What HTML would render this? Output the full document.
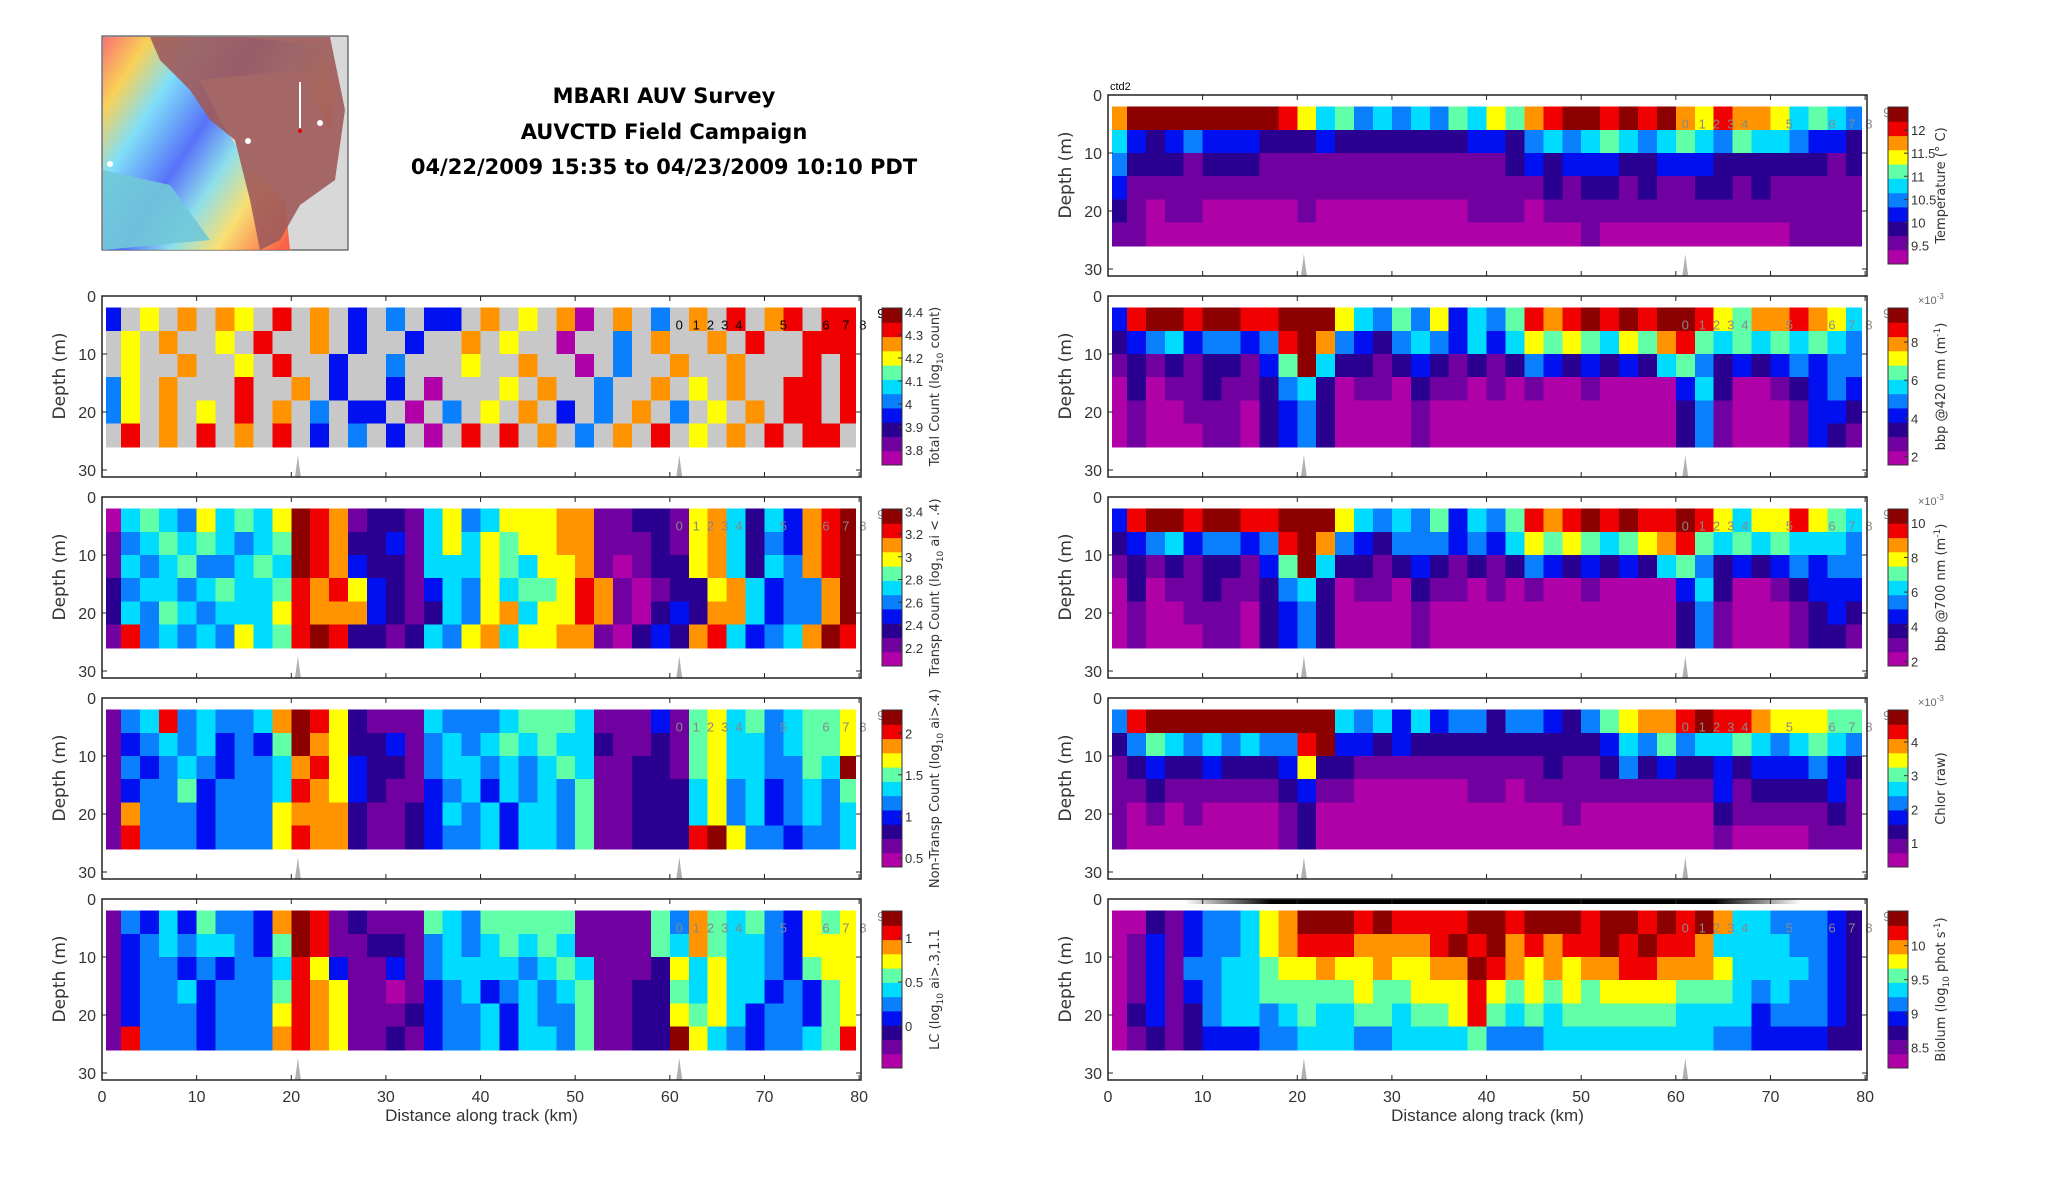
<!DOCTYPE html>
<html><head><meta charset="utf-8"><title>MBARI AUV Survey</title>
<style>
html,body{margin:0;padding:0;background:#fff;}
svg{display:block;font-family:"Liberation Sans","DejaVu Sans",sans-serif;}
</style></head>
<body>
<svg id="fig" width="2052" height="1188" viewBox="0 0 2052 1188" xmlns="http://www.w3.org/2000/svg">
  <defs>
    <linearGradient id="mapRainbow" x1="0" y1="0" x2="1" y2="0.6">
      <stop offset="0" stop-color="#ff6060"/>
      <stop offset="0.15" stop-color="#ffd040"/>
      <stop offset="0.3" stop-color="#70e0ff"/>
      <stop offset="0.5" stop-color="#4060ff"/>
      <stop offset="0.65" stop-color="#80e0f0"/>
      <stop offset="0.8" stop-color="#ffe060"/>
      <stop offset="1" stop-color="#ff5030"/>
    </linearGradient>
    <linearGradient id="blackBar" x1="0" y1="0" x2="1" y2="0">
      <stop offset="0" stop-color="#fff"/>
      <stop offset="0.14" stop-color="#000"/>
      <stop offset="0.86" stop-color="#000"/>
      <stop offset="1" stop-color="#fff"/>
    </linearGradient>
  </defs>
  <g>
    <rect x="102" y="36" width="246" height="214" fill="#d8d8d8" stroke="#333" stroke-width="1"/>
    <path d="M103,37 L103,250 L290,250 L285,200 L245,160 L220,120 L200,80 L300,70 L330,130 L335,90 L320,45 L240,37 Z" fill="url(#mapRainbow)" opacity="0.85"/>
    <path d="M150,37 L330,37 L345,110 L335,180 L300,205 L280,240 L260,250 L250,200 L235,140 L210,120 L190,90 L160,60 Z" fill="#a05a5a" opacity="0.9"/>
    <path d="M103,170 L170,185 L210,240 L103,250 Z" fill="#70c8d8" opacity="0.9"/>
    <line x1="300" y1="82" x2="300" y2="128" stroke="#fff" stroke-width="2"/>
    <circle cx="320" cy="123" r="3" fill="#fff"/>
    <circle cx="110" cy="164" r="3" fill="#fff"/>
    <circle cx="248" cy="141" r="3" fill="#fff"/>
    <circle cx="300" cy="131" r="2" fill="#d00"/>
  </g>
  <g font-family="'DejaVu Sans', sans-serif" font-weight="bold" font-size="21" text-anchor="middle" fill="#000">
    <text x="664" y="103">MBARI AUV Survey</text>
    <text x="664" y="139">AUVCTD Field Campaign</text>
    <text x="664" y="174">04/22/2009 15:35 to 04/23/2009 10:10 PDT</text>
  </g>
  <text x="1110" y="90" font-size="11" fill="#000">ctd2</text>
  <rect x="1185" y="899" width="616" height="5" fill="url(#blackBar)"/>
  <g id="panels"></g>
</svg>
<script>
// Shared axis data
const xTicks = [0, 10, 20, 30, 40, 50, 60, 70, 80];
const depthTicks = [0, 10, 20, 30];
const rowDepths = [2, 6, 10, 14, 18, 22]; // top depth of each 4 m data row
const rowHeight = 4;
const colWidthKm = 2;
const stationLabels = ['0', '1', '2', '3', '4', '5', '6', '7', '8', '9'];
const stationKm = [61, 62.8, 64.3, 65.8, 67.3, 72, 76.5, 78.6, 80.4, 82.3];
const bottomSpikesKm = [20.7, 61];

// Panel data: each row string = 40 columns (2 km), level 0 (low) .. a (high), g = no-data grey
const totalRows = [
  "3g7g8g87g9g8g3g4g33g8g7g80g8g4g8g9g89g99",
  "g7g8gg7g9gg8g3gg3gg8g7gg0gg4g8gg8g9gg999",
  "g7gg8gg7g9gg3gg4ggg7gg8gg0g4gg8gg8ggg9g9",
  "47g8ggg9gg8g3gg3g0ggg7g8gg4gg8g7g8gg99g9",
  "47g8g7g9g8g4g33g0g4g7g8g3g4g8g4g7g8g99g9",
  "g9g8g9g8g9g3g4g3g0g9g9g8g4g8g9g7g8g9g99g"
];
const transpRows = [
  "0565475657a9812215745777881122178525389a9",
  "1456565456a9822315757677881112178524389a9",
  "1545644565a9832215557657781012278525489a9",
  "245545655698973213547566798101227853448a9",
  "254654555798883212547857798102328853448a9",
  "19454547569a92212547857788102328953458a9"
];
const nontranspRows = [
  "1459454458a972111544456665111316756456678",
  "1345453436a872231454565655211216755456679",
  "143454344589732214554545651122167554465a8",
  "134463444598732113453545461122257453454697",
  "184443444788821123545355461122257453454569",
  "19444344479882112344535546112229a7443445696"
];
const lcRows = [
  "1435364438a912111654666661111648656437677",
  "1345455436a911221454565651111658655437777",
  "134434344597311314555545651112757554367797",
  "134453444698711013453454561122657553436797",
  "134443444798711123445354461122767534436799",
  "194443444898711213445355461122a7543445697"
];
const tempRows = [
  "8aaaaaaaa975645454657689aa9a9a8798875654",
  "5323433322232222222332454565456546554332",
  "4222122211111111111112323332233322222212",
  "3111111111111111111111121221211221211111",
  "2101100000100000000111011111111111111111",
  "1100000000000000000000000100000000001111"
];
const bbp420Rows = [
  "39aa9aa99aaa7546473546989a9a9aa976889875",
  "2345344349a84324543535767657689656565654",
  "1212122136a52212321212432323256423234344",
  "0201121124520110211010100100003520012343",
  "0100111023420000100000000000002410001332",
  "0100011023420000100000000000002410001321"
];
const bbp700Rows = [
  "39aa9aa99aaa7545463546989a9a99a975779765",
  "2345344349a84324443435767656789656565554",
  "1212122136a52212321212432323256423234344",
  "0201121124520110211010100100003520012333",
  "0100111023420000100000000000002410001232",
  "0100011023420000100000000000002410001221"
];
const chlorRows = [
  "49aaaaaaaaaa5453534424432467889a99877766",
  "24654545449a3323222222222235464556545654",
  "1232232223722111111111121124232232333432",
  "1121111112311000000110111111111131222231",
  "1010100001200000000000001000000021111121",
  "1000000001200000000000000000000010000111"
];
const biolumRows = [
  "0021344578aaa9a9999aa9aaa9aa9a9a85544432",
  "013134457899988889a9a89899a9a99855554432",
  "0131445567787787788a98787889988875555432",
  "0131345566666766777976767677776665454432",
  "0231245545655665667965656666665555344432",
  "0121233344555445555644455555555544333322"
];

// Colorbar ticks
const totalTicks = [3.8, 3.9, 4, 4.1, 4.2, 4.3, 4.4];
const transpTicks = [2.2, 2.4, 2.6, 2.8, 3, 3.2, 3.4];
const nontranspTicks = [0.5, 1, 1.5, 2];
const lcTicks = [0, 0.5, 1];
const tempTicks = [9.5, 10, 10.5, 11, 11.5, 12];
const bbp420Ticks = [2, 4, 6, 8];
const bbp700Ticks = [2, 4, 6, 8, 10];
const chlorTicks = [1, 2, 3, 4];
const biolumTicks = [8.5, 9, 9.5, 10];

const palette = ['#b000a8','#7000a0','#2a0090','#0010f0','#0a80ff','#00dcff','#60ffa8','#ffff00','#ff9400','#f00000','#8c0000'];
const GREY = '#c8c8c8';
const NS = 'http://www.w3.org/2000/svg';

const panelDefs = [
  {key:'total-count', rows: totalRows, ticks: totalTicks, vmin:3.735, vmax:4.417, left:102, top:296, label:'Total Count (log', sub:'10', tail:' count)', xlabels:false, labelColor:'#000', exp:false},
  {key:'transp-count', rows: transpRows, ticks: transpTicks, vmin:2.04, vmax:3.42, left:102, top:497, label:'Transp Count (log', sub:'10', tail:' ai < .4)', xlabels:false, labelColor:'#888', exp:false},
  {key:'nontransp-count', rows: nontranspRows, ticks: nontranspTicks, vmin:0.39, vmax:2.28, left:102, top:698, label:'Non-Transp Count (log', sub:'10', tail:' ai>.4)', xlabels:false, labelColor:'#888', exp:false},
  {key:'lc', rows: lcRows, ticks: lcTicks, vmin:-0.48, vmax:1.31, left:102, top:899, label:'LC (log', sub:'10', tail:' ai>.3,1.1<esd<1.7)', xlabels:true, labelColor:'#888', exp:false},
  {key:'temperature', rows: tempRows, ticks: tempTicks, vmin:9.1, vmax:12.5, left:1108, top:95, label:'Temperature (° C)', sub:'', tail:'', xlabels:false, labelColor:'#888', exp:false},
  {key:'bbp420', rows: bbp420Rows, ticks: bbp420Ticks, vmin:1.56, vmax:9.78, left:1108, top:296, label:'bbp @420 nm (m', sup:'-1', tail:')', xlabels:false, labelColor:'#888', exp:true},
  {key:'bbp700', rows: bbp700Rows, ticks: bbp700Ticks, vmin:1.73, vmax:10.8, left:1108, top:497, label:'bbp @700 nm (m', sup:'-1', tail:')', xlabels:false, labelColor:'#888', exp:true},
  {key:'chlor', rows: chlorRows, ticks: chlorTicks, vmin:0.29, vmax:4.95, left:1108, top:698, label:'Chlor (raw)', sub:'', tail:'', xlabels:false, labelColor:'#888', exp:true},
  {key:'biolum', rows: biolumRows, ticks: biolumTicks, vmin:8.2, vmax:10.51, left:1108, top:899, label:'Biolum (log', sub:'10', tail:' phot s', sup2:'-1', tail2:')', xlabels:true, labelColor:'#888', exp:false}
];

const W = 759, H = 181, PXM = 5.8, KMMAX = 80.2;
function mk(tag, attrs, parent){const e=document.createElementNS(NS,tag);for(const k in attrs)e.setAttribute(k,attrs[k]);if(parent)parent.appendChild(e);return e;}

const root = document.getElementById('panels');
panelDefs.forEach(p => {
  const xs = km => p.left + km / KMMAX * W;
  const ys = d => p.top + d * PXM;
  const g = mk('g', {}, root);
  
  
  const hm = mk('g', {'shape-rendering':'crispEdges'}, g);
  
  
  p.rows.forEach((rowStr, r) => {
    for (let i = 0; i < 40; i++) {
      const c = i < rowStr.length ? rowStr[i] : rowStr[rowStr.length-1];
      const fill = c === 'g' ? GREY : palette[parseInt(c, 16)];
      const x0 = xs(Math.max(0.4, i*colWidthKm)), x1 = xs(Math.min(79.6, (i+1)*colWidthKm));
      const cell = mk('rect', {x:x0.toFixed(1), y:ys(rowDepths[r]).toFixed(1), width:(x1-x0+0.6).toFixed(1), height:(rowHeight*PXM+0.6).toFixed(1), fill:fill}, hm);
      
      
    }
  });
  stationLabels.forEach((s, k) => {
    const t = mk('text', {x: xs(stationKm[k]).toFixed(1), y: ys(k===9?3.8:5.8).toFixed(1), 'font-size':'13', fill: p.labelColor, 'text-anchor':'middle'}, g);
    t.textContent = s;
    
    
  });
  bottomSpikesKm.forEach(k => {
    const x = xs(k);
    const sp = mk('path', {d:`M${x-3},${p.top+H} L${x-1},${p.top+H-14} L${x},${p.top+H-22} L${x+1},${p.top+H-14} L${x+3},${p.top+H} Z`, fill:'#b0b0b0'}, g);
    
    
  });
  const fr = mk('rect', {x:p.left, y:p.top, width:W, height:H, fill:'none', stroke:'#222', 'stroke-width':'1.5'}, g);
  
  
  xTicks.forEach(v => {
    const x = xs(v);
    mk('line', {x1:x, x2:x, y1:p.top, y2:p.top+5, stroke:'#222'}, g);
    mk('line', {x1:x, x2:x, y1:p.top+H, y2:p.top+H-5, stroke:'#222'}, g);
    if (p.xlabels) {
      const t = mk('text', {x:x, y:p.top+H+22, 'font-size':'16', fill:'#333', 'text-anchor':'middle'}, g);
      t.textContent = v;
      
      
    }
  });
  depthTicks.forEach(v => {
    const y = ys(v);
    mk('line', {x1:p.left, x2:p.left+5, y1:y, y2:y, stroke:'#222'}, g);
    mk('line', {x1:p.left+W, x2:p.left+W-5, y1:y, y2:y, stroke:'#222'}, g);
    const t = mk('text', {x:p.left-6, y:y+6, 'font-size':'16', fill:'#333', 'text-anchor':'end'}, g);
    t.textContent = v;
    
    
  });
  const yl = mk('text', {x:0, y:0, 'font-size':'17', fill:'#333', 'text-anchor':'middle', 'font-family':"'DejaVu Sans', sans-serif", transform:`translate(${p.left-37},${p.top+80}) rotate(-90)`}, g);
  yl.textContent = 'Depth (m)';
  
  
  if (p.xlabels) {
    const xl = mk('text', {x:p.left+W/2, y:p.top+H+41, 'font-size':'17', fill:'#333', 'text-anchor':'middle'}, g);
    xl.textContent = 'Distance along track (km)';
    
    
  }
  const cbx = p.left + W + 21, cby = p.top + 12, cbw = 20, cbh = 157;
  const cb = mk('g', {}, g);
  
  
  const n = palette.length;
  palette.forEach((col, k) => {
    mk('rect', {x:cbx, y:(cby + cbh - (k+1)*cbh/n).toFixed(1), width:cbw, height:(cbh/n+0.5).toFixed(1), fill:col}, cb);
  });
  mk('rect', {x:cbx, y:cby, width:cbw, height:cbh, fill:'none', stroke:'#333'}, cb);
  p.ticks.forEach(v => {
    const y = cby + cbh - (v - p.vmin) / (p.vmax - p.vmin) * cbh;
    mk('line', {x1:cbx+cbw-4, x2:cbx+cbw, y1:y, y2:y, stroke:'#333'}, cb);
    const t = mk('text', {x:cbx+cbw+3, y:y+5, 'font-size':'13', fill:'#333'}, cb);
    t.textContent = v;
    
    
  });
  if (p.exp) {
    const e = mk('text', {x:cbx+30, y:cby-4, 'font-size':'11', fill:'#666'}, cb);
    e.innerHTML = '×10<tspan dy="-5" font-size="8">-3</tspan>';
    
    
  }
  const lx = cbx + cbw + 37, ly = cby + cbh/2;
  const lab = mk('text', {x:0, y:0, 'font-size':'13', fill:'#333', 'text-anchor':'middle', 'font-family':"'DejaVu Sans', sans-serif", transform:`translate(${lx},${ly}) rotate(-90)`}, cb);
  let html = p.label;
  if (p.sub) html += `<tspan dy="4" font-size="9">${p.sub}</tspan><tspan dy="-4">${p.tail}</tspan>`;
  else if (p.sup) html += `<tspan dy="-5" font-size="9">${p.sup}</tspan><tspan dy="5">${p.tail}</tspan>`;
  else html += p.tail;
  if (p.sup2) html += `<tspan dy="-5" font-size="9">${p.sup2}</tspan><tspan dy="5">${p.tail2}</tspan>`;
  lab.innerHTML = html;
  
  
});
</script>
</body></html>
